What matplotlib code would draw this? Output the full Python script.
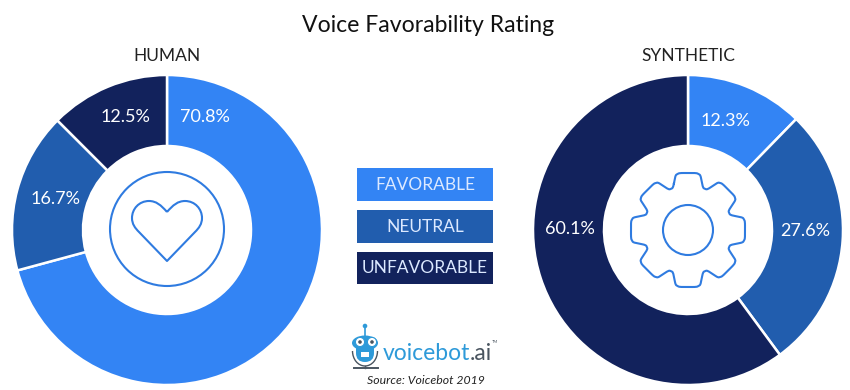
import numpy as np
import matplotlib
matplotlib.use("Agg")
import matplotlib.pyplot as plt
from matplotlib.patches import Circle, PathPatch, Rectangle, Ellipse, FancyBboxPatch, Arc
from matplotlib.path import Path

plt.rcParams['font.family'] = ['Lato', 'DejaVu Sans']

title = "Voice Favorability Rating"
categories = ["FAVORABLE", "NEUTRAL", "UNFAVORABLE"]
human_values = [70.8, 16.7, 12.5]
synthetic_values = [12.3, 27.6, 60.1]
colors = ["#3384F4", "#215DAE", "#12225C"]
source = "Source: Voicebot 2019"

W, H = 850, 390
fig = plt.figure(figsize=(W / 100, H / 100), dpi=100, facecolor="white")

R, RI = 155, 84


def donut(cx, cy, values):
    ax = fig.add_axes([(cx - R) / W, 1 - (cy + R) / H, 2 * R / W, 2 * R / H])
    ax.pie(values, colors=colors, startangle=90, counterclock=False, radius=1,
           wedgeprops=dict(width=(R - RI) / R, edgecolor="white", linewidth=1.8))
    ax.set_xlim(-1, 1)
    ax.set_ylim(-1, 1)
    ax.set_aspect("equal")
    ax.axis("off")


donut(167, 230, human_values)
donut(688, 230, synthetic_values)

ov = fig.add_axes([0, 0, 1, 1], facecolor="none")
ov.set_xlim(0, W)
ov.set_ylim(H, 0)
ov.axis("off")

ov.text(428, 25, title, ha="center", va="center", fontsize=16.6, color="#111111")
ov.text(167, 56, "HUMAN", ha="center", va="center", fontsize=12.5, color="#222222")
ov.text(688, 56, "SYNTHETIC", ha="center", va="center", fontsize=12.5, color="#222222")

for v, (x, y) in zip(human_values, [(205, 117), (56, 199), (125, 117)]):
    ov.text(x, y, f"{v}%", ha="center", va="center", fontsize=13, color="white")
for v, (x, y) in zip(synthetic_values, [(725, 121), (805, 231), (570, 229)]):
    ov.text(x, y, f"{v}%", ha="center", va="center", fontsize=13, color="white")

for cat, col, (y0, y1) in zip(categories, colors, [(168, 201), (210, 243), (252, 284)]):
    ov.add_patch(Rectangle((357, y0), 136, y1 - y0, facecolor=col, edgecolor="none"))
    ov.text(425, (y0 + y1) / 2, cat, ha="center", va="center", fontsize=12.5,
            color="#DCE9FF")

ICON = "#2F7BE0"

# heart icon
ov.add_patch(Circle((167, 229), 57, fill=False, edgecolor=ICON, linewidth=1.5))
heart = Path(
    [(167, 212), (161, 205), (156, 201), (149, 201), (139, 201), (132, 209), (132, 218),
     (132, 224), (135, 228), (139, 232),
     (167, 261), (195, 232),
     (199, 228), (202, 224), (202, 218), (202, 209), (195, 201), (185, 201),
     (178, 201), (173, 205), (167, 212)],
    [Path.MOVETO, Path.CURVE4, Path.CURVE4, Path.CURVE4, Path.CURVE4, Path.CURVE4, Path.CURVE4,
     Path.CURVE4, Path.CURVE4, Path.CURVE4,
     Path.LINETO, Path.LINETO,
     Path.CURVE4, Path.CURVE4, Path.CURVE4, Path.CURVE4, Path.CURVE4, Path.CURVE4,
     Path.CURVE4, Path.CURVE4, Path.CURVE4])
ov.add_patch(PathPatch(heart, fill=False, edgecolor=ICON, linewidth=1.5, joinstyle="round"))

# gear icon
gx, gy = 688, 230
ov.add_patch(Circle((gx, gy), 25, fill=False, edgecolor=ICON, linewidth=1.5))
pts = []
for k in range(8):
    a = np.deg2rad(k * 45)
    u = np.array([np.sin(a), -np.cos(a)])
    n = np.array([np.cos(a), np.sin(a)])
    c = np.array([gx, gy])
    pts += [c + 42 * u - 15 * n, c + 57 * u - 12 * n, c + 57 * u + 12 * n, c + 42 * u + 15 * n]
pts = np.array(pts)
for _ in range(3):
    nxt = np.roll(pts, -1, axis=0)
    pts = np.column_stack([0.86 * pts + 0.14 * nxt, 0.14 * pts + 0.86 * nxt]).reshape(-1, 2)
pts = np.vstack([pts, pts[:1]])
ov.plot(pts[:, 0], pts[:, 1], color=ICON, linewidth=1.5, solid_joinstyle="round")

# logo
BOT = "#2E9AD9"
GREY = "#4A5560"
ov.plot([365, 365], [326, 336], color=BOT, lw=1.2)
ov.add_patch(Circle((365, 326), 1.6, color=BOT))
ov.add_patch(FancyBboxPatch((356, 336), 18, 26, boxstyle="round,pad=0,rounding_size=9",
                            facecolor=BOT, edgecolor="none"))
ov.add_patch(Ellipse((365, 343), 26, 15, facecolor=BOT, edgecolor="none"))
for ex in (360, 372):
    ov.add_patch(Circle((ex, 342), 4.6, facecolor="white", edgecolor=BOT, lw=0.8))
    ov.add_patch(Circle((ex, 342), 1.8, facecolor=GREY, edgecolor="none"))
ov.add_patch(Rectangle((361, 352), 8, 5, facecolor="white", edgecolor="none"))
ov.add_patch(Arc((365, 351), 25, 30, theta1=0, theta2=180, color=GREY, lw=1.0))
ov.plot([365, 365], [366, 368], color=GREY, lw=1.0)
ov.plot([354, 378], [368, 368], color=GREY, lw=1.4)
ov.text(383, 353, "voicebot", ha="left", va="center", fontsize=16.5, color=BOT)
ov.text(470, 353, ".ai", ha="left", va="center", fontsize=16.5, color=GREY)
ov.text(492, 342, "TM", ha="left", va="center", fontsize=3, color=GREY)
ov.text(425.5, 381, source, ha="center", va="center", fontsize=8.8, style="italic", color="#222222")

fig.savefig("out.png", dpi=100, facecolor="white")
